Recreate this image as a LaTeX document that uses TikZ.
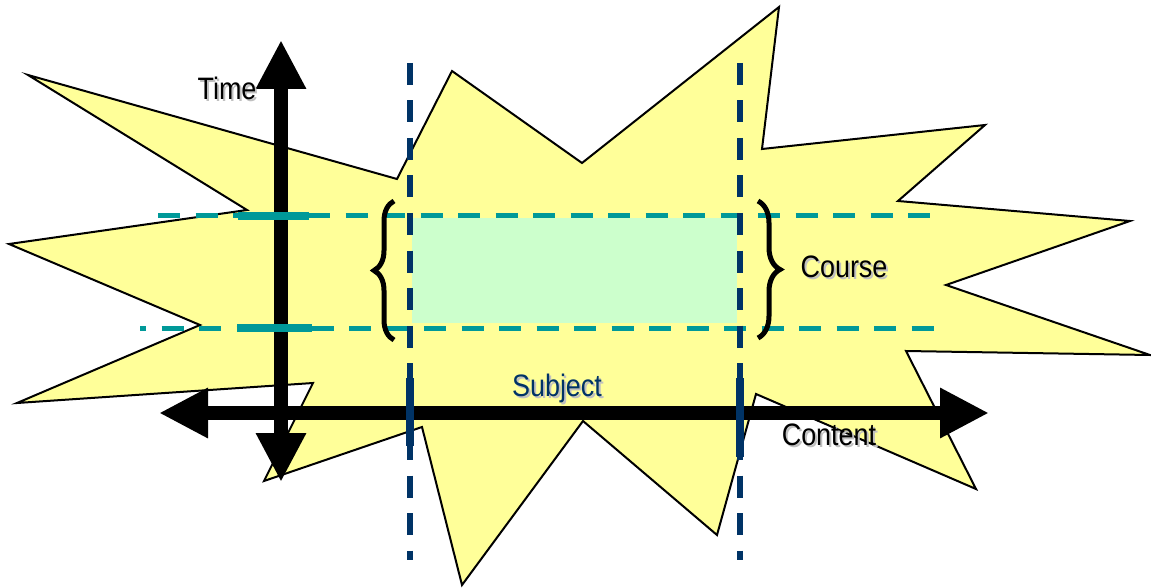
\documentclass[tikz,border=0pt]{standalone}
\usepackage{fontspec}
\setmainfont{Liberation Sans}
\usetikzlibrary{arrows.meta,decorations.pathreplacing}
\definecolor{staryellow}{HTML}{FFFF99}
\definecolor{coursegreen}{HTML}{CCFFCC}
\definecolor{tealline}{HTML}{009999}
\definecolor{navyline}{HTML}{003366}
\definecolor{shadowgray}{HTML}{C0C0C0}
\tikzset{
  starshape/.style={fill=staryellow, draw=black, line width=2, line join=miter},
  tealdash/.style={draw=tealline, line width=5, dash pattern=on 22 off 15.5},
  tealtick/.style={draw=tealline, line width=8},
  navydash/.style={draw=navyline, line width=6, dash pattern=on 22 off 15.5},
  navytick/.style={draw=navyline, line width=8},
  axis/.style={draw=black, line width=14,
    {Triangle[length=49pt,width=47pt]}-{Triangle[length=49pt,width=47pt]}},
  bracestyle/.style={draw=black, line width=5, decorate},
  lbl/.style={inner sep=0, font=\fontsize{31}{31}\selectfont},
  lblshadow/.style={lbl, text=shadowgray}
}
\newcommand{\narrow}[1]{\scalebox{0.87}[1]{#1}}
\begin{document}
\begin{tikzpicture}[x=1pt,y=-1pt]
\useasboundingbox (0,0) rectangle (1151,588);
% star
\draw[starshape] (28,75) -- (397,179) -- (452,71) -- (582,163) -- (779,7)
  -- (762,149) -- (985,125) -- (898,201) -- (1130,221) -- (946,285)
  -- (1150,355) -- (906,351) -- (976,489) -- (756,394) -- (717,535)
  -- (583,421) -- (462,585) -- (422,427) -- (264,481) -- (313,383)
  -- (17,403) -- (200,325) -- (9,244) -- (247,210) -- cycle;
% course area
\node[fill=coursegreen, inner sep=0, minimum width=325, minimum height=105, anchor=north west] (area) at (412,218) {};
% coordinates
\coordinate (u1) at (158,216); \coordinate (u2) at (932,216);
\coordinate (l1) at (140,328); \coordinate (l2) at (935,328);
\coordinate (v1a) at (410,63); \coordinate (v1b) at (410,560);
\coordinate (v2a) at (740,63); \coordinate (v2b) at (740,560);
\coordinate (ttop) at (281,40); \coordinate (tbot) at (281,482);
\coordinate (cleft) at (159,413); \coordinate (cright) at (989,413);
% dashed lines
\draw[tealdash] (u1) -- (u2);
\draw[tealdash, dash phase=16] (l1) -- (l2);
\draw[navydash] (v1a) -- (v1b);
\draw[navydash] (v2a) -- (v2b);
% axes
\draw[axis] (tbot) -- (ttop);
\draw[axis] (cleft) -- (cright);
% ticks
\coordinate (tu1) at (238,216); \coordinate (tu2) at (309,216);
\coordinate (tl1) at (237,328); \coordinate (tl2) at (312,328);
\draw[tealtick] (tu1) -- (tu2);
\draw[tealtick] (tl1) -- (tl2);
\coordinate (n1a) at (410,378); \coordinate (n1b) at (410,446);
\coordinate (n2a) at (740,378); \coordinate (n2b) at (740,457);
\draw[navytick] (n1a) -- (n1b);
\draw[navytick] (n2a) -- (n2b);
% braces
\coordinate (lb1) at (394,340); \coordinate (lb2) at (394,201);
\coordinate (rb1) at (758,201); \coordinate (rb2) at (758,338);
\draw[bracestyle, decoration={brace, amplitude=20}] (lb1) -- (lb2);
\draw[bracestyle, decoration={brace, amplitude=22}] (rb1) -- (rb2);
% labels
\node[lblshadow] (times) at (229,90) {\narrow{Time}};
\node[lbl] (time) at (227,88) {\narrow{Time}};
\node[lblshadow] (courses) at (846,269) {\narrow{Course}};
\node[lbl] (course) at (844,267) {\narrow{Course}};
\node[lblshadow, anchor=base] (subjects) at (559,398) {\narrow{Subject}};
\node[lbl, text=navyline, anchor=base] (subject) at (557,396) {\narrow{Subject}};
\node[lblshadow] (contents) at (831,437) {\narrow{Content}};
\node[lbl] (content) at (829,435) {\narrow{Content}};
\end{tikzpicture}
\end{document}
